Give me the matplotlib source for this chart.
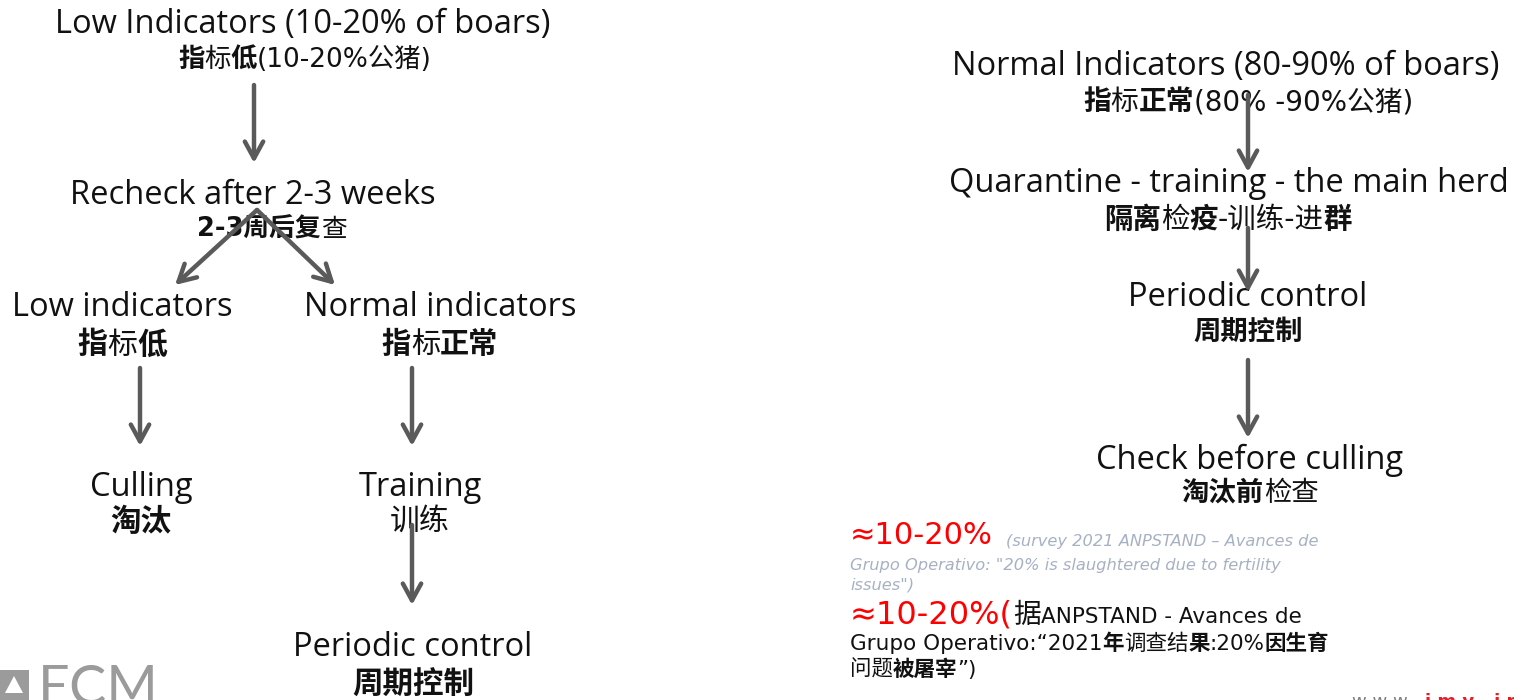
import matplotlib; matplotlib.use("Agg")
import matplotlib.pyplot as plt
from matplotlib.patches import Rectangle, Polygon, Wedge

INK = "#111111"; ARROW = "#5A5A5A"; RED = "#FF0000"; NOTE = "#A7B1C4"; LOGO = "#9B9B9B"
EN = ["Open Sans", "Noto Sans CJK SC", "DejaVu Sans"]
ZH = ["DejaVu Sans", "Noto Sans CJK SC"]

# flowchart nodes: (english, chinese); "*" toggles bold in the chinese line
left_nodes = [("Low Indicators (10-20% of boars)", "*指*标*低*(10-20%公猪)"),
              ("Recheck after 2-3 weeks", "*2-3周后复*查"),
              ("Low indicators", "*指*标*低*"),
              ("Normal indicators", "*指*标*正常*"),
              ("Culling", "*淘汰*"),
              ("Training", "训练"),
              ("Periodic control", "*周期控制*")]
right_nodes = [("Normal Indicators (80-90% of boars)", "*指*标*正常*(80% -90%公猪)"),
               ("Quarantine - training - the main herd", "*隔离*检*疫*-训练-进*群*"),
               ("Periodic control", "*周期控制*"),
               ("Check before culling", "*淘汰前*检查")]
share_big = "≈10-20%"
share_note = ["(survey 2021 ANPSTAND – Avances de",
              "Grupo Operativo: \"20% is slaughtered due to fertility",
              "issues\")"]
share_zh = ["据ANPSTAND - Avances de",
            "Grupo Operativo:“2021*年*调查结*果*:20%*因生育*",
            "问题*被屠宰*”)"]

# layout in pixels (x centre, y of english line, y of chinese line, chinese size)
left_pos = [(303, 24, 60, 19), (253, 195, 230, 18.5), (122, 308, 345, 21.5), (440, 308, 345, 21),
            (141, 487, 522, 22), (420, 487, 521, 21.5), (413, 647, 685, 22)]
right_pos = [(1226, 66, 102, 20), (1229, 183, 220, 20.5), (1248, 298, 333, 19.7), (1250, 460, 494, 19.7)]
zh_dx = {0: 2, 1: 19}
rzh_dx = {0: 22, 1: -1}
arrows = [((254, 85), (254, 163)), ((257, 210), (175, 285)), ((257, 210), (335, 285)),
          ((140, 368), (140, 446)), ((412, 368), (412, 446)), ((412, 525), (412, 605)),
          ((1248, 95), (1248, 172)), ((1248, 228), (1248, 292)), ((1248, 360), (1248, 438))]

fig = plt.figure(figsize=(15.14, 7.0), dpi=100)
ax = fig.add_axes([0, 0, 1, 1]); ax.set_xlim(0, 1514); ax.set_ylim(700, 0); ax.axis("off")
r = fig.canvas.get_renderer()

def t(x, y, s, fs, c=INK, fam=EN, w="normal", ha="center", va="center", st="normal"):
    return ax.text(x, y, s, fontsize=fs, color=c, family=fam, weight=w, ha=ha, va=va, style=st)

def width(txt):
    return txt.get_window_extent(renderer=r).width

def runs(x, y, s, fs, c=INK, fam=ZH, ha="center", va="center"):
    parts = s.split("*")
    texts = []
    for i, p in enumerate(parts):
        if p:
            texts.append(t(0, y, p, fs, c=c, fam=fam, w="bold" if i % 2 else "normal", ha="left", va=va))
    total = sum(width(tx) for tx in texts)
    x0 = x - total / 2 if ha == "center" else x
    for tx in texts:
        tx.set_x(x0); x0 += width(tx)
    return x0

EN_FS = 23.5
for i, ((en, zh), (x, ye, yz, fz)) in enumerate(zip(left_nodes, left_pos)):
    t(x, ye, en, EN_FS)
    runs(x + zh_dx.get(i, 0), yz, zh, fz)
for i, ((en, zh), (x, ye, yz, fz)) in enumerate(zip(right_nodes, right_pos)):
    t(x, ye, en, EN_FS)
    runs(x + rzh_dx.get(i, 0), yz, zh, fz)

for (x0, y0), (x1, y1) in arrows:
    ax.annotate("", xy=(x1, y1), xytext=(x0, y0),
                arrowprops=dict(arrowstyle="->,head_length=0.55,head_width=0.3", lw=3.2, color=ARROW,
                                mutation_scale=22, shrinkA=0, shrinkB=0))

# share notes, placed as sequential text runs
a = t(850, 544, share_big, 22, c=RED, fam=["DejaVu Sans"], ha="left", va="baseline")
t(850 + width(a) + 13, 546, share_note[0], 11.7, c=NOTE, fam=["DejaVu Sans"], ha="left", va="baseline", st="italic")
t(850, 570, share_note[1], 11.7, c=NOTE, fam=["DejaVu Sans"], ha="left", va="baseline", st="italic")
t(850, 589, share_note[2], 11.7, c=NOTE, fam=["DejaVu Sans"], ha="left", va="baseline", st="italic")
b = t(850, 623, share_big + "(", 23, c=RED, fam=["DejaVu Sans"], ha="left", va="baseline")
bx = 850 + width(b)
j = t(bx, 623, share_zh[0][0], 20, fam=["Noto Sans CJK SC"], ha="left", va="baseline")
t(bx + width(j), 623, share_zh[0][1:], 15.5, fam=ZH, ha="left", va="baseline")
runs(850, 650, share_zh[1], 15.5, ha="left", va="baseline")
runs(850, 676, share_zh[2], 15.5, ha="left", va="baseline")

# logo, cut by the bottom edge
ax.add_patch(Rectangle((0, 670), 29, 34, fc=LOGO, ec="none"))
ax.add_patch(Polygon([(5, 693), (14, 676), (23, 693)], fc="white", ec="none"))
ax.add_patch(Wedge((14, 694), 8, 0, 180, fc=LOGO, ec="none"))
t(38, 664, "ECM", 40, c=LOGO, fam=["Lato"], ha="left", va="top")

# website, cut by the bottom edge
w1 = t(1352, 707, "w w w .", 13, c="#7F7F7F", fam=["DejaVu Sans"], ha="left", va="baseline")
t(1352 + width(w1) + 6, 707, "i m v - i m a g i n g", 13, c="#E41E26", fam=["DejaVu Sans"], w="bold",
  ha="left", va="baseline")

fig.savefig("out.png", dpi=100)
